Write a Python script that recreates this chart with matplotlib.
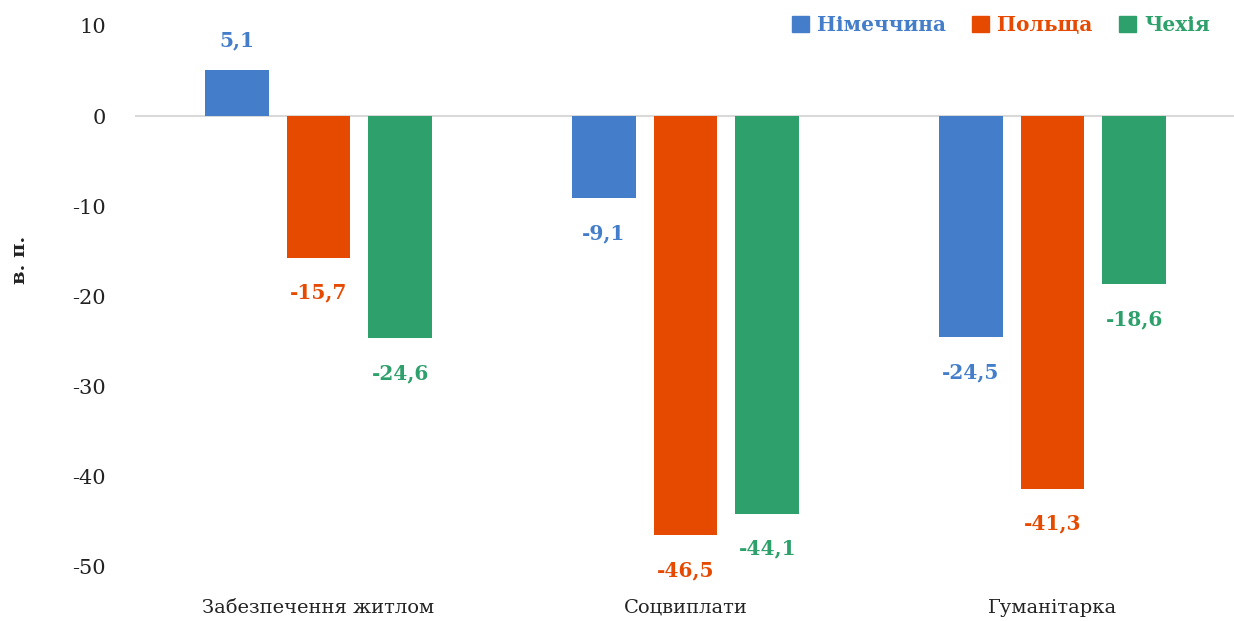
import matplotlib
matplotlib.use("Agg")
import matplotlib.pyplot as plt
import numpy as np
from matplotlib.patches import Patch

categories = ["Забезпечення житлом", "Соцвиплати", "Гуманітарка"]
series_names = ["Німеччина", "Польща", "Чехія"]
germany = [5.1, -9.1, -24.5]
poland = [-15.7, -46.5, -41.3]
czechia = [-24.6, -44.1, -18.6]
yticks = [10, 0, -10, -20, -30, -40, -50]

colors = ["#447DC9", "#E64A00", "#2EA06B"]
serif = ["DejaVu Serif"]

fig = plt.figure(figsize=(12.34, 6.21), dpi=100)
ax = fig.add_axes([135/1234, 1-567/621, 1101/1234, (567-26)/621])

x = np.arange(len(categories))
width = 0.174
step = 0.223
data = [germany, poland, czechia]
for i, (vals, c) in enumerate(zip(data, colors)):
    pos = x + (i - 1) * step
    ax.bar(pos, vals, width=width, color=c, zorder=3)
    for p, v in zip(pos, vals):
        lbl = f"{v:.1f}".replace(".", ",")
        if v >= 0:
            ax.annotate(lbl, (p, v), xytext=(0, 14), textcoords="offset points",
                        ha="center", va="bottom", color=c, fontsize=14.5,
                        fontweight="bold", family=serif)
        else:
            ax.annotate(lbl, (p, v), xytext=(0, -18), textcoords="offset points",
                        ha="center", va="top", color=c, fontsize=14.5,
                        fontweight="bold", family=serif)

ax.set_xlim(-0.5, 2.5)
ax.set_ylim(-50, 10)
ax.axhline(0, color="#d9d9d9", lw=1.5, zorder=2)
ax.set_yticks(yticks)
ax.set_yticklabels([str(t) for t in yticks], family=serif, fontsize=15, color="#222222")
ax.set_xticks(x)
ax.set_xticklabels(categories, family=serif, fontsize=14, color="#222222")
ax.tick_params(axis="both", length=0)
ax.tick_params(axis="y", pad=21)
ax.tick_params(axis="x", pad=23)
for s in ax.spines.values():
    s.set_visible(False)

fig.text(20/1234, 1-260/621, "в. п.", rotation=90, ha="center", va="center",
         family=serif, fontsize=14, fontweight="bold", color="#222222")

handles = [Patch(color=c, label=n) for c, n in zip(colors, series_names)]
leg = fig.legend(handles=handles, loc="center right", bbox_to_anchor=(1210/1234, 1-25/621),
                 ncol=3, frameon=False, handlelength=0.85, handleheight=0.85,
                 handletextpad=0.4, columnspacing=1.3, borderpad=0, borderaxespad=0,
                 prop={"family": serif, "size": 14.5, "weight": "bold"})
for t, c in zip(leg.get_texts(), colors):
    t.set_color(c)

fig.savefig("out.png", dpi=100)
